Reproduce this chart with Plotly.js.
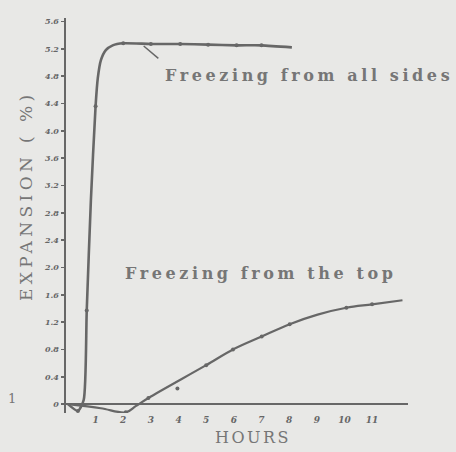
<!DOCTYPE html>
<html>
<head>
<meta charset="utf-8">
<script src="https://cdn.plot.ly/plotly-3.0.1.min.js"></script>
<style>
  html, body { margin: 0; padding: 0; background: #e8e8e6; }
  #chart { width: 456px; height: 452px; }
</style>
</head>
<body>
<div id="chart"></div>
<script>
// ---- data ----
const allSidesHours = [0, 0.36, 0.57, 0.68, 0.83, 1.0, 1.08, 1.19, 1.37, 1.62, 2.0, 3.0, 4.06, 5.07, 6.1, 7.0, 8.1];
const allSidesExp   = [0, -0.1, 0.06, 1.37, 2.98, 4.36, 4.77, 5.03, 5.18, 5.25, 5.28, 5.27, 5.27, 5.26, 5.25, 5.25, 5.22];
const allSidesMarkHours = [0.36, 0.68, 1.0, 2.0, 3.0, 4.06, 5.07, 6.1, 7.0];
const allSidesMarkExp   = [-0.1, 1.37, 4.36, 5.28, 5.27, 5.27, 5.26, 5.25, 5.25];

const topHours = [0, 1.19, 2.09, 2.45, 2.91, 5.0, 5.97, 7.01, 8.02, 9.03, 10.07, 11.0, 12.1];
const topExp   = [0, -0.06, -0.12, -0.03, 0.09, 0.57, 0.80, 0.99, 1.17, 1.31, 1.41, 1.46, 1.52];
const topMarkHours = [2.09, 2.91, 3.96, 5.0, 5.97, 7.01, 8.02, 10.07, 11.0];
const topMarkExp   = [-0.12, 0.09, 0.23, 0.57, 0.80, 0.99, 1.17, 1.41, 1.46];

const yTickVals  = [0, 0.4, 0.8, 1.2, 1.6, 2.0, 2.4, 2.8, 3.2, 3.6, 4.0, 4.4, 4.8, 5.2, 5.6];
const yTickText  = ["0", "0.4", "0.8", "1.2", "1.6", "2.0", "2.4", "2.8", "3.2", "3.6", "4.0", "4.4", "4.8", "5.2", "5.6"];
const xTickVals  = [1, 2, 3, 4, 5, 6, 7, 8, 9, 10, 11];
const xTickText  = ["1", "2", "3", "4", "5", "6", "7", "8", "9", "10", "11"];

const labelAll = "Freezing from all sides";
const labelTop = "Freezing from the top";
const xTitle = "HOURS";
const yTitle = "EXPANSION ( %)";

// ---- styling ----
const lineCol = "#676767";
const textCol = "#767676";
const serif = "DejaVu Serif, serif";

const traces = [
  { x: allSidesHours, y: allSidesExp, mode: "lines", line: { color: lineCol, width: 2.6, shape: "spline", smoothing: 0.6 }, hoverinfo: "skip" },
  { x: allSidesMarkHours, y: allSidesMarkExp, mode: "markers", marker: { color: lineCol, size: 4, symbol: "circle" }, hoverinfo: "skip" },
  { x: topHours, y: topExp, mode: "lines", line: { color: lineCol, width: 2.2, shape: "spline", smoothing: 1 }, hoverinfo: "skip" },
  { x: topMarkHours, y: topMarkExp, mode: "markers", marker: { color: lineCol, size: 4, symbol: "circle" }, hoverinfo: "skip" }
];

// pixel -> paper helpers (plot area l=66, r=48, t=18, b=39)
const L = 66, R = 48, T = 18, B = 39, W = 456, H = 452;
const px = v => (v - L) / (W - L - R);
const py = v => 1 - (v - T) / (H - T - B);

const layout = {
  width: W, height: H,
  margin: { l: L, r: R, t: T, b: B, pad: 0 },
  paper_bgcolor: "#e8e8e6",
  plot_bgcolor: "#e8e8e6",
  showlegend: false,
  xaxis: {
    range: [-0.07, 12.3],
    showgrid: false, zeroline: false, showline: false,
    tickmode: "array", tickvals: xTickVals, ticktext: xTickText,
    ticks: "", tickfont: { family: serif, size: 9, color: "#666", style: "italic", weight: "bold" },
    fixedrange: true
  },
  yaxis: {
    range: [-0.13, 5.65],
    showgrid: false,
    zeroline: true, zerolinecolor: lineCol, zerolinewidth: 2,
    showline: true, linecolor: lineCol, linewidth: 2.5,
    tickmode: "array", tickvals: yTickVals, ticktext: yTickText,
    ticks: "outside", ticklen: 3, tickcolor: lineCol, tickwidth: 1.5,
    tickfont: { family: serif, size: 8, color: "#666", style: "italic", weight: "bold" },
    fixedrange: true
  },
  shapes: [
    { type: "line", xref: "x", yref: "y", x0: 2.74, y0: 5.24, x1: 3.27, y1: 5.06, line: { color: lineCol, width: 1.5 } }
  ],
  annotations: [
    { xref: "paper", yref: "paper", x: px(163), y: py(75), xanchor: "left", yanchor: "middle", showarrow: false,
      text: '<span style="letter-spacing:3.6px">' + labelAll + '</span>', font: { family: serif, size: 16, color: textCol, weight: "bold" } },
    { xref: "paper", yref: "paper", x: px(123), y: py(273), xanchor: "left", yanchor: "middle", showarrow: false,
      text: '<span style="letter-spacing:3.6px">' + labelTop + '</span>', font: { family: serif, size: 16, color: textCol, weight: "bold" } },
    { xref: "paper", yref: "paper", x: px(253), y: py(437), xanchor: "center", yanchor: "middle", showarrow: false,
      text: '<span style="letter-spacing:2.5px">' + xTitle + '</span>', font: { family: serif, size: 16, color: textCol } },
    { xref: "paper", yref: "paper", x: px(26), y: py(196), xanchor: "center", yanchor: "middle", showarrow: false, textangle: -90,
      text: '<span style="letter-spacing:4.4px">' + yTitle + '</span>', font: { family: serif, size: 17, color: textCol } },
    { xref: "paper", yref: "paper", x: px(12), y: py(398), xanchor: "center", yanchor: "middle", showarrow: false,
      text: "1", font: { family: serif, size: 13, color: textCol } }
  ]
};

Plotly.newPlot("chart", traces, layout, { displayModeBar: false, staticPlot: true });
</script>
</body>
</html>
